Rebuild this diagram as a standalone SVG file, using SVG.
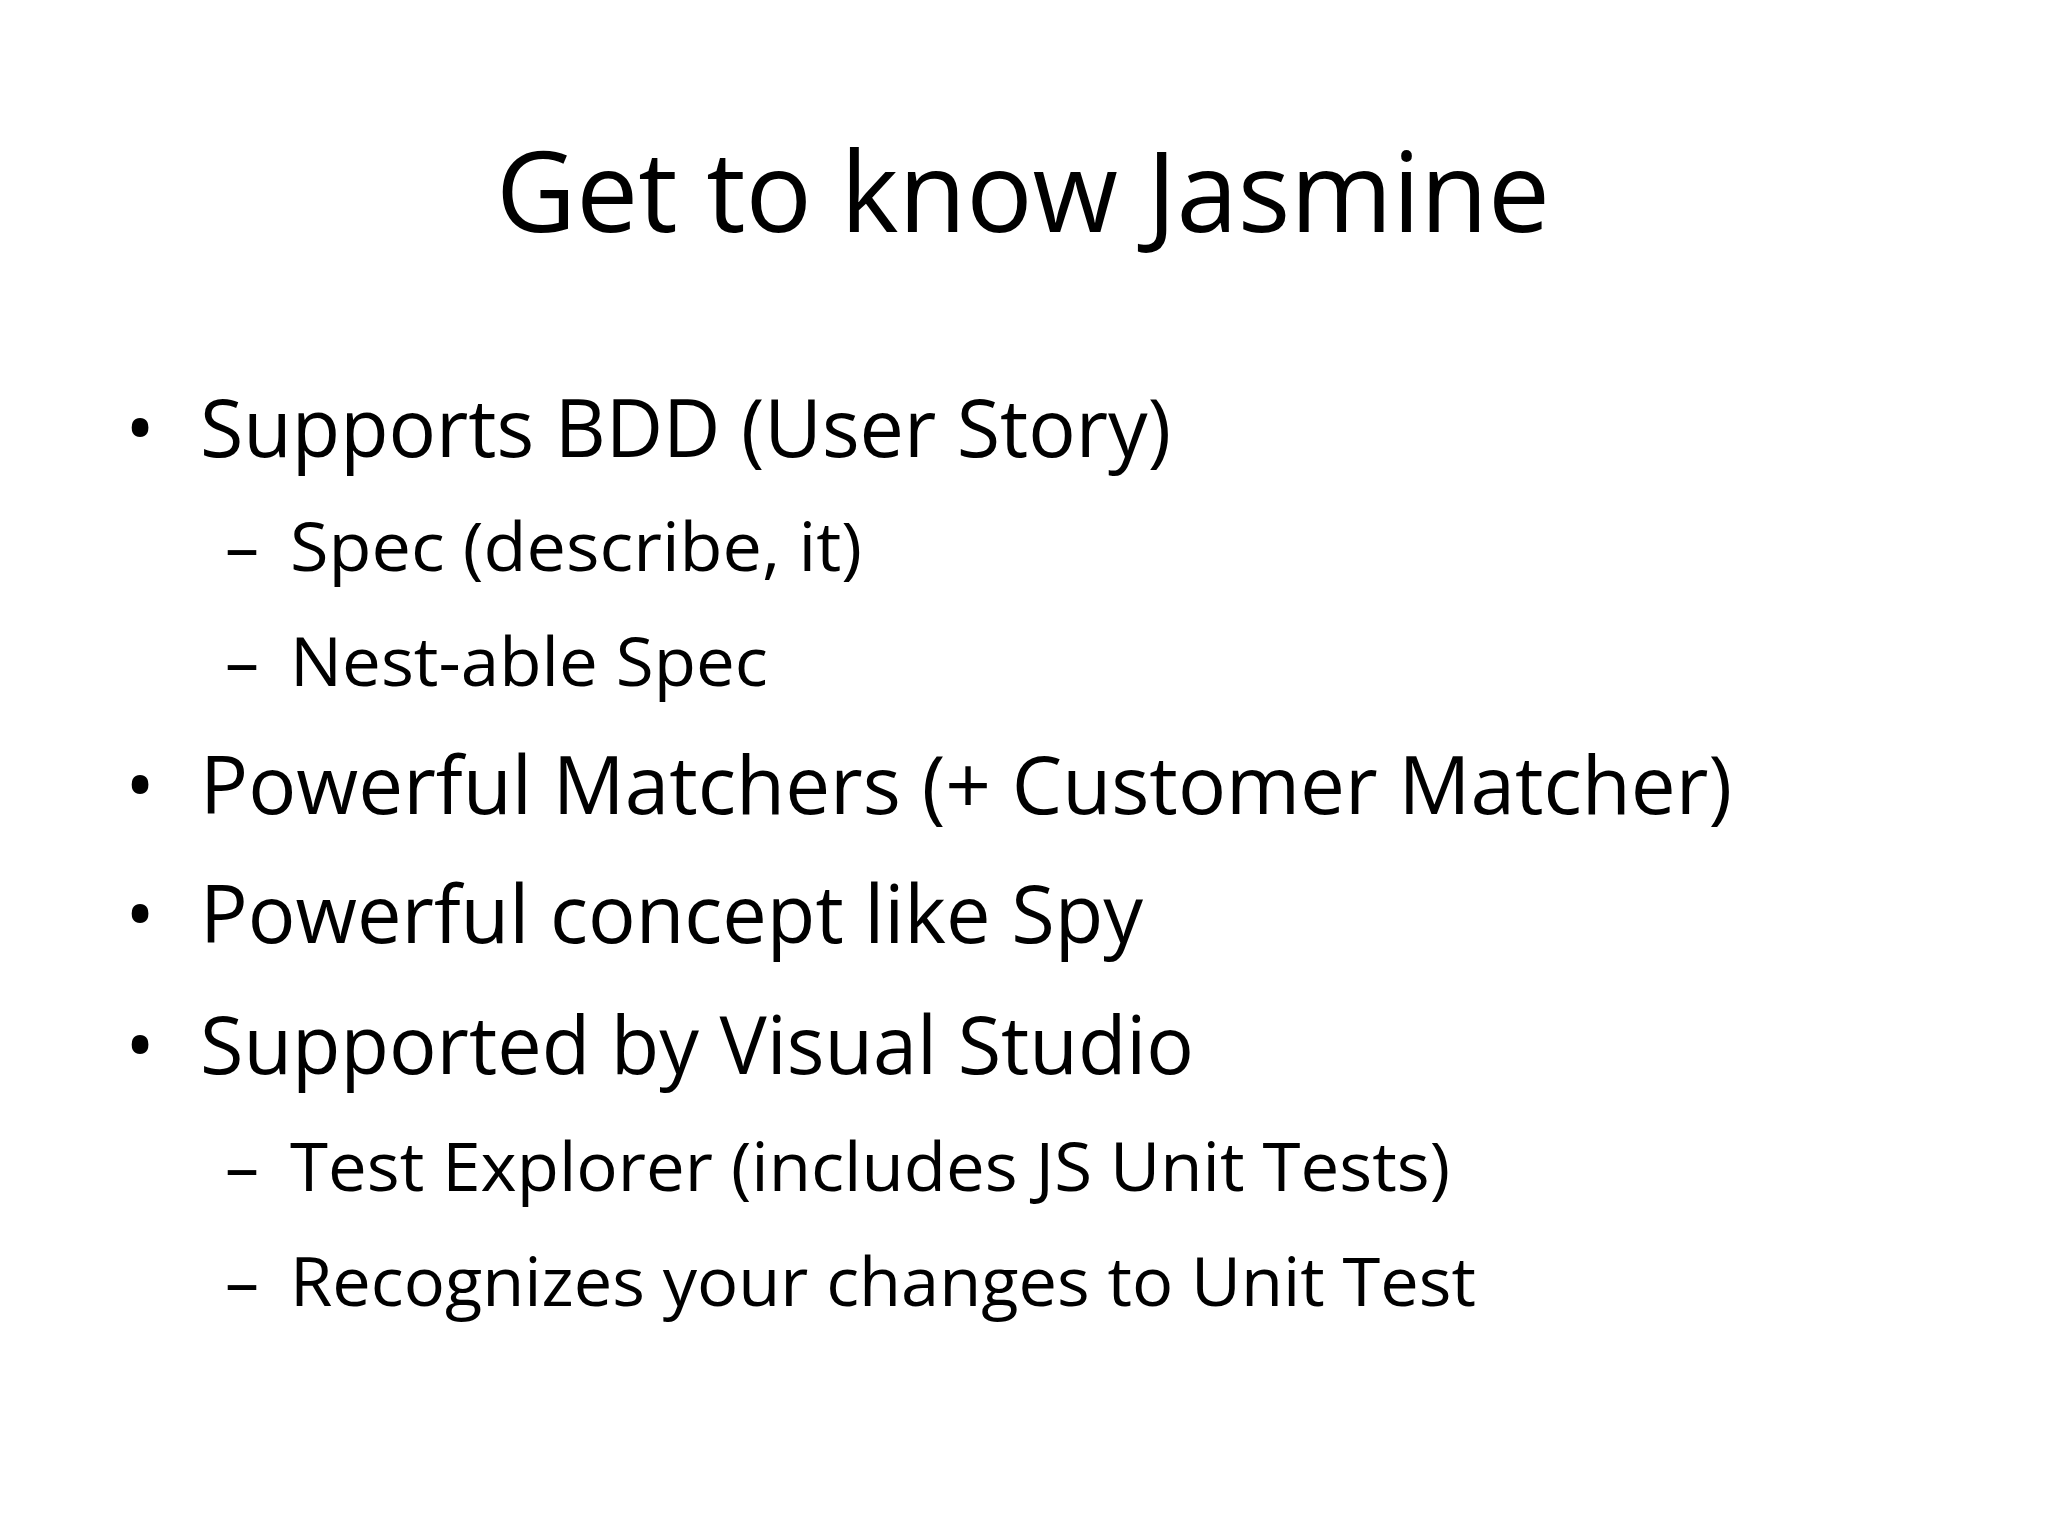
<svg xmlns="http://www.w3.org/2000/svg" width="2048" height="1536" viewBox="0 0 2048 1536">
<style>
text{font-family:"Open Sans","Noto Sans","Liberation Sans",sans-serif;fill:#000}
.t{font-size:112px}
.b{font-size:80px}
.s{font-size:68px}
</style>
<rect width="2048" height="1536" fill="#fff"/>
<text class="t" x="1023" y="232" text-anchor="middle" textLength="1054" lengthAdjust="spacingAndGlyphs">Get to know Jasmine</text>
<g class="b">
<text class="b" x="125" y="457">•</text>
<text class="b" x="200" y="457" textLength="971" lengthAdjust="spacingAndGlyphs">Supports BDD (User Story)</text>
<text class="b" x="125" y="814">•</text>
<text class="b" x="200" y="814" textLength="1532" lengthAdjust="spacingAndGlyphs">Powerful Matchers (+ Customer Matcher)</text>
<text class="b" x="125" y="943">•</text>
<text class="b" x="200" y="943" textLength="943" lengthAdjust="spacingAndGlyphs">Powerful concept like Spy</text>
<text class="b" x="125" y="1074">•</text>
<text class="b" x="200" y="1074" textLength="994" lengthAdjust="spacingAndGlyphs">Supported by Visual Studio</text>
</g>
<g>
<text class="s" x="225" y="571">–</text>
<text class="s" x="290" y="571" textLength="572" lengthAdjust="spacingAndGlyphs">Spec (describe, it)</text>
<text class="s" x="225" y="686">–</text>
<text class="s" x="290" y="686" textLength="478" lengthAdjust="spacingAndGlyphs">Nest-able Spec</text>
<text class="s" x="225" y="1191">–</text>
<text class="s" x="290" y="1191" textLength="1160" lengthAdjust="spacingAndGlyphs">Test Explorer (includes JS Unit Tests)</text>
<text class="s" x="225" y="1306">–</text>
<text class="s" x="290" y="1306" textLength="1186" lengthAdjust="spacingAndGlyphs">Recognizes your changes to Unit Test</text>
</g>
</svg>
